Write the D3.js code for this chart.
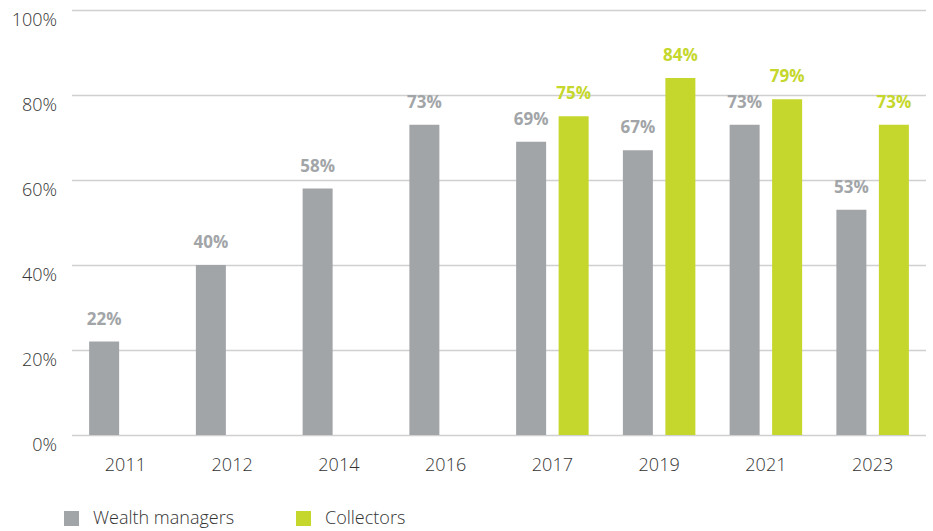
<!DOCTYPE html>
<html><head><meta charset="utf-8">
<script src="https://cdn.jsdelivr.net/npm/d3@7"></script>
<style>body{margin:0;background:#fff;font-family:"Open Sans",sans-serif;}</style>
</head><body><svg id="c" width="933" height="531"></svg>
<script>
const years = ["2011","2012","2014","2016","2017","2019","2021","2023"];
const wealthManagers = [22,40,58,73,69,67,73,53];
const collectors = [null,null,null,null,75,84,79,73];
const yTicks = [0,20,40,60,80,100];
const seriesNames = ["Wealth managers","Collectors"];
const colors = ["#a2a5a8","#c5d72c"];

const svg = d3.select("#c");
const m = {l:72, r:7, t:10, b:96};
const W = 933, H = 531;
const x = d3.scaleBand().domain(years).range([m.l, W-m.r]).paddingInner(0).paddingOuter(0);
const xi = d3.scaleBand().domain([0,1]).range([0, x.bandwidth()]).paddingInner(0.294).paddingOuter(0.403);
const y = d3.scaleLinear().domain([0,100]).range([H-m.b, m.t]);

const grid = svg.append("g").attr("transform",`translate(${m.l},0)`)
  .call(d3.axisLeft(y).tickValues(yTicks).tickSize(-(W-m.r-m.l)).tickFormat(d=>d+"%"));
grid.select(".domain").remove();
grid.selectAll(".tick line").attr("stroke","#d0d0d0").attr("stroke-width",1.3);
grid.selectAll(".tick text").attr("x",-15).attr("y",9).attr("dy","0.36em").attr("fill","#333")
  .style("font-family","Open Sans").style("font-weight","300").style("font-size","18px");

const xa = svg.append("g").attr("transform",`translate(0,${H-m.b})`)
  .call(d3.axisBottom(x).tickSize(0));
xa.select(".domain").remove();
xa.selectAll(".tick text").attr("dy","1.3em").attr("y",13).attr("fill","#333")
  .style("font-family","Open Sans").style("font-weight","300").style("font-size","18px");

const data = years.map((yr,i)=>({yr, vals:[wealthManagers[i], collectors[i]]}));
const g = svg.append("g");
data.forEach(d=>{
  d.vals.forEach((v,k)=>{
    if(v==null) return;
    const bx = x(d.yr)+xi(k);
    g.append("rect").attr("x",bx).attr("y",y(v)).attr("width",xi.bandwidth())
      .attr("height",y(0)-y(v)).attr("fill",colors[k]);
    g.append("text").attr("x",bx+xi.bandwidth()/2).attr("y",y(v)-17)
      .attr("text-anchor","middle").attr("fill",colors[k])
      .style("font-family","Open Sans").style("font-weight","700").style("font-size","17px")
      .text(v+"%");
  });
});

const lg = svg.append("g");
const lx = [64, 296];
seriesNames.forEach((n,k)=>{
  lg.append("rect").attr("x",lx[k]).attr("y",511).attr("width",15).attr("height",15).attr("fill",colors[k]);
  lg.append("text").attr("x",lx[k]+29).attr("y",518).attr("dy","0.36em").attr("fill","#333")
    .style("font-family","Open Sans").style("font-weight","300").style("font-size","18px").text(n);
});
</script></body></html>
